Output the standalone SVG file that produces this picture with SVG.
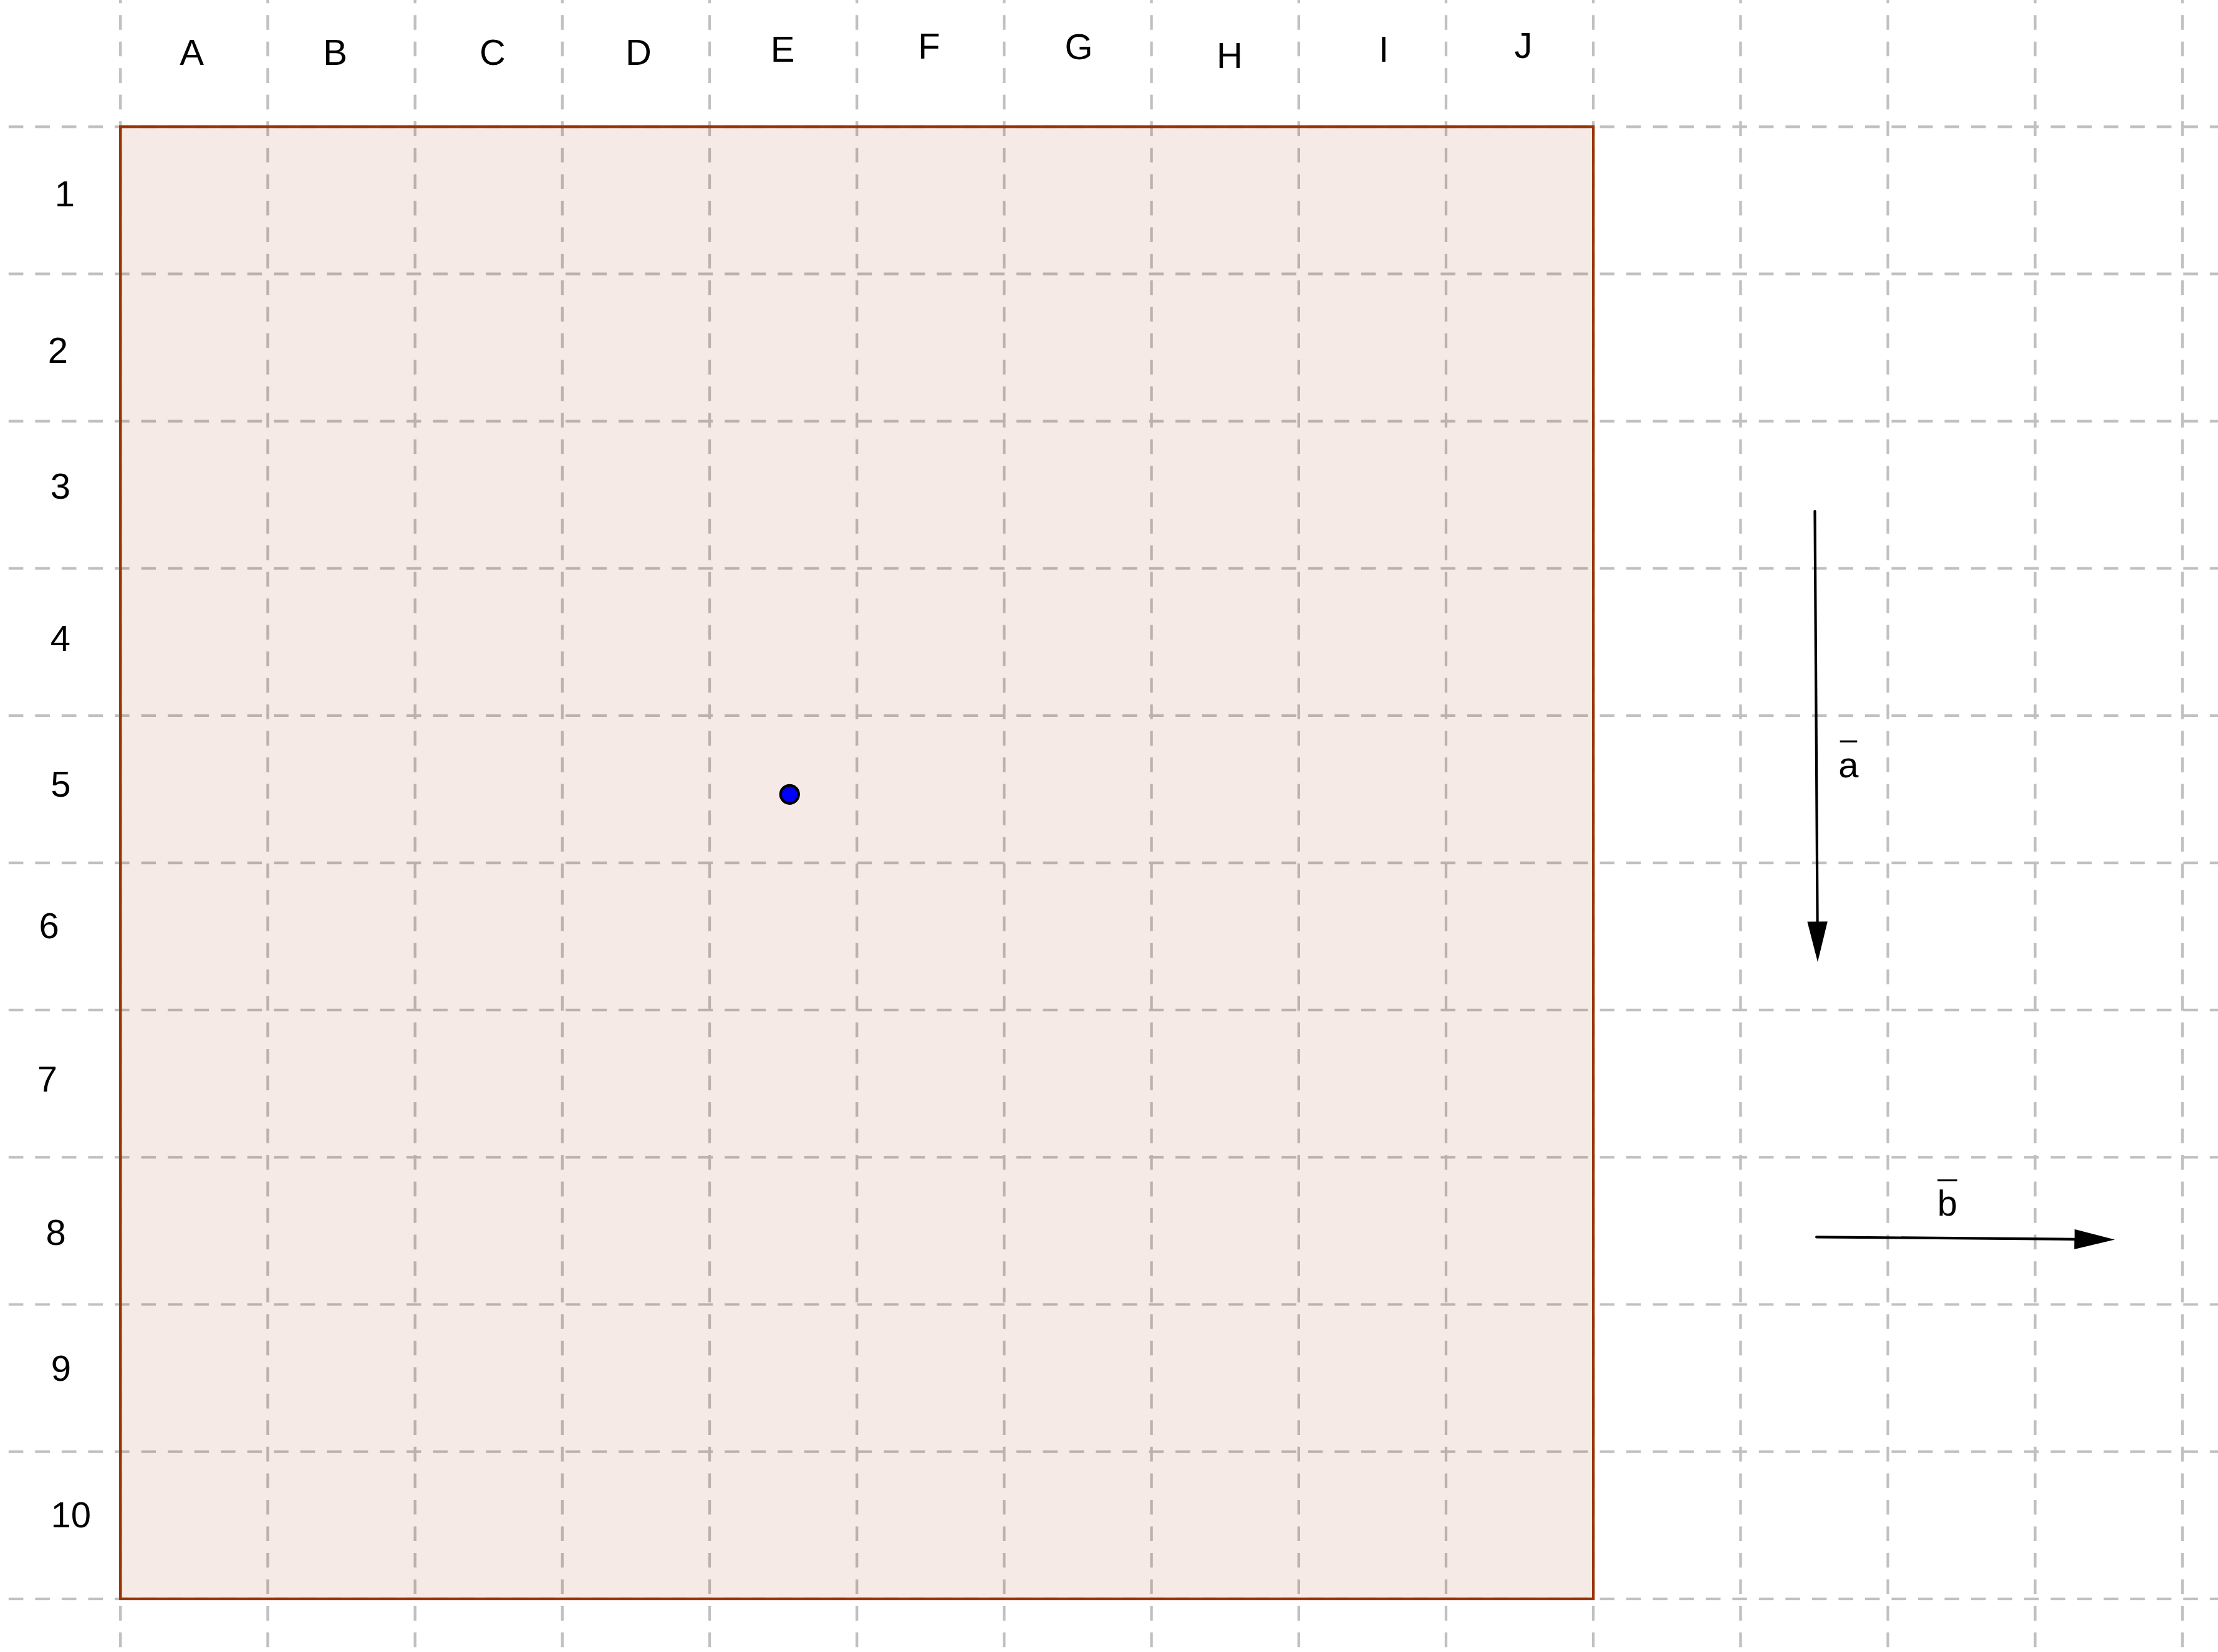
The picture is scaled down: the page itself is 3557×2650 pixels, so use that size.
<svg xmlns="http://www.w3.org/2000/svg" width="3557" height="2650" viewBox="0 0 3557 2650">
<style>
.bg{fill:#ffffff}
.gv{stroke:#c0c0c0;stroke-width:4.3;stroke-dasharray:23.6 18.93;stroke-dashoffset:18.3;fill:none}
.gh{stroke:#c0c0c0;stroke-width:4.2;stroke-dasharray:23.6 18.93;fill:none}
.region{fill:#993300;fill-opacity:0.1;stroke:#993300;stroke-width:4.3}
.vec{stroke:#000000;stroke-width:4.2;stroke-linecap:round;fill:none}
.bar{stroke:#000000;stroke-width:3.2}
.lbl{font-family:"Liberation Sans",Arial,sans-serif;font-size:58px;fill:#000000;text-anchor:middle}
</style>
<defs>
<marker id="head" markerUnits="userSpaceOnUse" markerWidth="66" markerHeight="34" viewBox="0 -17 66 34" refX="0" refY="0" orient="auto">
<path d="M0,-16.2 L65,0 L0,16.2 Z" fill="#000000"/>
</marker>
</defs>
<rect class="bg" x="0" y="0" width="3557" height="2650"/>
<g id="grid">
<line class="gv" x1="193.2" y1="0" x2="193.2" y2="2650"/>
<line class="gv" x1="429.4" y1="0" x2="429.4" y2="2650"/>
<line class="gv" x1="665.6" y1="0" x2="665.6" y2="2650"/>
<line class="gv" x1="901.8" y1="0" x2="901.8" y2="2650"/>
<line class="gv" x1="1138" y1="0" x2="1138" y2="2650"/>
<line class="gv" x1="1374.2" y1="0" x2="1374.2" y2="2650"/>
<line class="gv" x1="1610.4" y1="0" x2="1610.4" y2="2650"/>
<line class="gv" x1="1846.6" y1="0" x2="1846.6" y2="2650"/>
<line class="gv" x1="2082.8" y1="0" x2="2082.8" y2="2650"/>
<line class="gv" x1="2319" y1="0" x2="2319" y2="2650"/>
<line class="gv" x1="2555.2" y1="0" x2="2555.2" y2="2650"/>
<line class="gv" x1="2791.4" y1="0" x2="2791.4" y2="2650"/>
<line class="gv" x1="3027.6" y1="0" x2="3027.6" y2="2650"/>
<line class="gv" x1="3263.8" y1="0" x2="3263.8" y2="2650"/>
<line class="gv" x1="3500" y1="0" x2="3500" y2="2650"/>
<line class="gh" x1="13.8" y1="203.3" x2="3557" y2="203.3"/>
<line class="gh" x1="13.8" y1="439.45" x2="3557" y2="439.45"/>
<line class="gh" x1="13.8" y1="675.6" x2="3557" y2="675.6"/>
<line class="gh" x1="13.8" y1="911.75" x2="3557" y2="911.75"/>
<line class="gh" x1="13.8" y1="1147.9" x2="3557" y2="1147.9"/>
<line class="gh" x1="13.8" y1="1384.05" x2="3557" y2="1384.05"/>
<line class="gh" x1="13.8" y1="1620.2" x2="3557" y2="1620.2"/>
<line class="gh" x1="13.8" y1="1856.35" x2="3557" y2="1856.35"/>
<line class="gh" x1="13.8" y1="2092.5" x2="3557" y2="2092.5"/>
<line class="gh" x1="13.8" y1="2328.65" x2="3557" y2="2328.65"/>
<line class="gh" x1="13.8" y1="2564.8" x2="3557" y2="2564.8"/>
</g>
<g id="region">
<rect class="region" x="193.2" y="203.3" width="2362" height="2361.5"/>
</g>
<g id="point">
<circle cx="1266.3" cy="1274.3" r="14.5" fill="#0000ff" stroke="#000000" stroke-width="4.2"/>
</g>
<g id="connectors">
<g id="vector-a">
<line class="vec" x1="2910.5" y1="820" x2="2914.6" y2="1478.3" marker-end="url(#head)"/>
</g>
<g id="vector-b">
<line class="vec" x1="2913.1" y1="1984.3" x2="3326.5" y2="1987.9" marker-end="url(#head)"/>
</g>
</g>
<g id="vector-labels">
<g id="label-a">
<line class="bar" x1="2950.7" y1="1189.3" x2="2978.3" y2="1189.3"/>
<text class="lbl" x="2964.5" y="1246.7">a</text>
</g>
<g id="label-b">
<line class="bar" x1="3107.2" y1="1893.3" x2="3138.9" y2="1893.3"/>
<text class="lbl" x="3123" y="1950">b</text>
</g>
</g>
<g id="column-labels">
<text class="lbl" x="307.6" y="104.3">A</text>
<text class="lbl" x="537.5" y="104">B</text>
<text class="lbl" x="790" y="104">C</text>
<text class="lbl" x="1024" y="103.7">D</text>
<text class="lbl" x="1255" y="98.7">E</text>
<text class="lbl" x="1490" y="94">F</text>
<text class="lbl" x="1730" y="94.5">G</text>
<text class="lbl" x="1972" y="109">H</text>
<text class="lbl" x="2219" y="99">I</text>
<text class="lbl" x="2443" y="93">J</text>
</g>
<g id="row-labels">
<text class="lbl" x="104" y="331">1</text>
<text class="lbl" x="93" y="582">2</text>
<text class="lbl" x="97" y="799.5">3</text>
<text class="lbl" x="97" y="1044">4</text>
<text class="lbl" x="97.5" y="1278">5</text>
<text class="lbl" x="78.7" y="1504.5">6</text>
<text class="lbl" x="76" y="1751">7</text>
<text class="lbl" x="89.7" y="1997">8</text>
<text class="lbl" x="98" y="2214.5">9</text>
<text class="lbl" x="113.7" y="2450">10</text>
</g>
</svg>
